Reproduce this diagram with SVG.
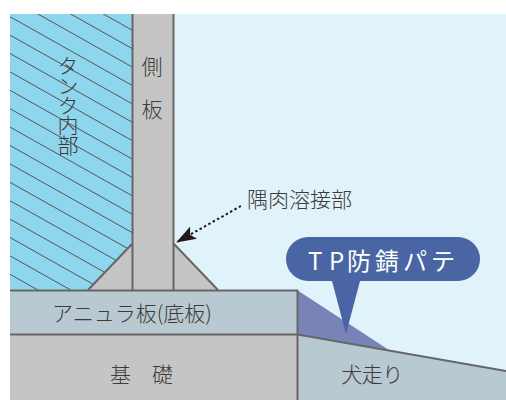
<svg xmlns="http://www.w3.org/2000/svg" width="506" height="400" viewBox="0 0 506 400">
<style>
.t{font-family:"Noto Sans CJK JP","Noto Sans",sans-serif;font-size:21px;fill:#3e3a39;font-weight:300}
.o{stroke:#666;stroke-width:2;fill:none}
.h{stroke:#555;stroke-width:1;fill:none}
</style>
<defs>
<clipPath id="tc"><polygon points="10,14 132,14 132,244 88,290 10,290"/></clipPath>
<marker id="ah" viewBox="0 0 20 14" refX="19" refY="7" markerWidth="20" markerHeight="14" markerUnits="userSpaceOnUse" orient="auto"><path d="M20,7 L0,0 L4,7 L0,14Z" fill="#231815"/></marker>
</defs>
<rect width="506" height="400" fill="#fff"/>
<rect x="174" y="14" width="332" height="386" fill="#e0f3fb"/>
<g id="tank">
<rect x="10" y="14" width="122" height="276" fill="#8ed6ee"/>
<g clip-path="url(#tc)" class="h">
<path d="M10,-38.500L132,30.100M10,-20.100L132,48.500M10,-1.700L132,66.900M10,16.700L132,85.300M10,35.100L132,103.700M10,53.500L132,122.100M10,71.900L132,140.500M10,90.300L132,158.900M10,108.700L132,177.300M10,127.100L132,195.700M10,145.500L132,214.100M10,163.900L132,232.500M10,182.300L132,250.900M10,200.700L132,269.300M10,219.100L132,287.700M10,237.500L132,306.100M10,255.900L132,324.500M10,274.300L132,342.900"/>
</g>
<text class="t" x="68" y="55" style="writing-mode:vertical-rl;letter-spacing:-1px;font-size:21px">タンク内部</text>
</g>
<g id="wall">
<polygon points="132,244 88,290 218,290 174,244" fill="#c5c5c5"/>
<rect x="132.500" y="14" width="41" height="276" fill="#c5c5c5"/>
<path class="o" d="M132.500,14V290M173.500,14V290M132,244L88,290M174,244L218,290"/>
<text class="t" x="152" y="74" text-anchor="middle">側</text>
<text class="t" x="152" y="117" text-anchor="middle">板</text>
</g>
<g id="annular">
<rect x="10" y="290" width="287" height="44" fill="#b8c9d1"/>
<text class="t" x="132" y="321" text-anchor="middle">アニュラ板(底板)</text>
</g>
<g id="foundation">
<rect x="10" y="335" width="287" height="65" fill="#c5c5c5"/>
<text class="t" x="141.500" y="382" text-anchor="middle">基　礎</text>
</g>
<g id="slope">
<polygon points="297,335 506,371 506,400 297,400" fill="#b8c9d1"/>
<text class="t" x="372" y="382" text-anchor="middle" style="letter-spacing:-0.5px">犬走り</text>
</g>
<g id="putty">
<polygon points="297,290 389,350 297,335" fill="#7a83b8"/>
</g>
<g id="connectors">
<path class="o" d="M10,290.500H297.500V400M10,334.500H297.500L506,371"/>
<path d="M241,206L177,242" fill="none" stroke="#231815" stroke-width="2" stroke-dasharray="2.500 2.500" marker-end="url(#ah)"/>
</g>
<g id="weld-label">
<text class="t" x="247" y="207">隅肉溶接部</text>
</g>
<g id="tp-callout">
<path d="M308,237H458A22,22 0 0 1 458,281H360L346,334L332,281H308A22,22 0 0 1 308,237Z" fill="#4a65a3"/>
<text class="t" y="270" style="fill:#fff;font-size:24px;font-weight:400"><tspan x="308">T</tspan><tspan x="329">P</tspan><tspan x="347" style="letter-spacing:4px">防錆パテ</tspan></text>
</g>
</svg>
